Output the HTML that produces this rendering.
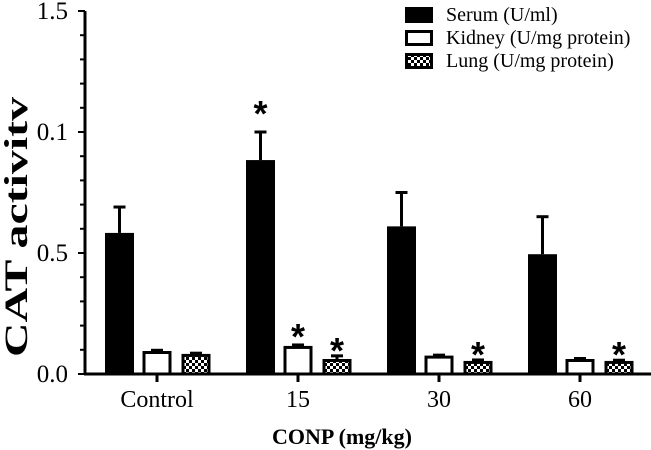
<!DOCTYPE html>
<html><head><meta charset="utf-8"><style>
body{margin:0;background:#fff;}
svg{display:block;font-family:"Liberation Serif",serif;}
</style></head><body>
<svg id="chart" width="651" height="450" viewBox="0 0 651 450">
<defs>
<pattern id="checker" width="6" height="6" patternUnits="userSpaceOnUse">
<rect width="6" height="6" fill="#000"/>
<rect x="0" y="0" width="3" height="3" fill="#fff"/>
<rect x="3" y="3" width="3" height="3" fill="#fff"/>
</pattern>
</defs>
<g id="plot"></g>
</svg>
<script>
const categories = ["Control","15","30","60"];
const serum = [0.583, 0.884, 0.61, 0.495];
const serumErr = [0.69, 1.0, 0.75, 0.65];
const kidney = [0.095, 0.116, 0.076, 0.062];
const kidneyErr = [0.098, 0.12, 0.078, 0.064];
const lung = [0.083, 0.062, 0.054, 0.054];
const lungErr = [0.086, 0.075, 0.058, 0.057];
const kidneyStar = [false, true, false, false];
const lungStar = [false, true, true, true];
const serumStar = [false, true, false, false];
const yTickValues = [0, 0.5, 1.0, 1.5];
const yTickLabels = ["0.0","0.5","0.1","1.5"];

const NS = "http://www.w3.org/2000/svg";
const g = document.getElementById('plot');
const x0 = 85, yBase = 374, yTop = 11, yMax = 1.5;
const yScale = v => yBase - v / yMax * (yBase - yTop);
const groupCenter = i => 157 + i * 141;
const barW = 29, gap = 10;
function el(tag, attrs, parent){ const e = document.createElementNS(NS, tag); for (const k in attrs) e.setAttribute(k, attrs[k]); (parent||g).appendChild(e); return e; }

const yAxis = el('line',{x1:x0,y1:yTop,x2:x0,y2:yBase+1,stroke:'#000','stroke-width':3});


for (let k = 0; k <= 15; k++) {
  const y = yScale(k * 0.1);
  const t = el('line',{x1:x0-(k%5===0?7:5),y1:y,x2:x0,y2:y,stroke:'#000','stroke-width':2});
  
  
}
yTickValues.forEach((v,i)=>{
  const t = el('text',{x:68,y:yScale(v)+8,'text-anchor':'end','font-size':25});
  t.textContent = yTickLabels[i];
  
  
});
const xAxis = el('line',{x1:x0-1,y1:yBase,x2:651,y2:yBase,stroke:'#000','stroke-width':3});



function star(x, y){
  const s = el('text',{x:x,y:y,'text-anchor':'middle','font-size':36,'font-weight':'bold','font-family':'"Liberation Sans",sans-serif'});
  s.textContent = '*';
  
  
}
function bar(x, v, err, fill, name){
  const top = yScale(v);
  const eTop = yScale(err);
  const cx = x + barW/2;
  const el1 = el('line',{x1:cx,y1:eTop,x2:cx,y2:top,stroke:'#000','stroke-width':3});
  
  
  const el2 = el('line',{x1:cx-6,y1:eTop,x2:cx+6,y2:eTop,stroke:'#000','stroke-width':3});
  
  
  const r = el('rect',{x:x+1.5,y:top+1.5,width:barW-3,height:Math.max(0,yBase-top-1.5),fill:fill,stroke:'#000','stroke-width':3});
  
  
  return eTop;
}
categories.forEach((c,i)=>{
  const cx = groupCenter(i);
  const xk = cx - barW/2, xl = cx + barW/2 + gap;
  const sx = cx - 52;
  const s1 = bar(sx, serum[i], serumErr[i], '#000', 'bar-serum-'+c.toLowerCase());
  const s2 = bar(xk, kidney[i], kidneyErr[i], '#fff', 'bar-kidney-'+c.toLowerCase());
  const s3 = bar(xl, lung[i], lungErr[i], 'url(#checker)', 'bar-lung-'+c.toLowerCase());
  if (serumStar[i]) star(sx+barW/2, s1-6);
  if (kidneyStar[i]) star(xk+barW/2, s2+4);
  if (lungStar[i]) star(xl+barW/2, s3+7);
  const t = el('line',{x1:cx,y1:yBase,x2:cx,y2:yBase+8,stroke:'#000','stroke-width':3});
  
  
  const lb = el('text',{x:cx,y:407,'text-anchor':'middle','font-size':24});
  lb.textContent = c;
  
  
});
const yt = el('text',{x:0,y:0,transform:'translate(27,227) rotate(-90)','text-anchor':'middle','font-size':33,'font-weight':'bold',textLength:260,lengthAdjust:'spacingAndGlyphs'});
yt.textContent = 'CAT activitv';


const xt = el('text',{x:342,y:444,'text-anchor':'middle','font-size':22,'font-weight':'bold'});
xt.textContent = 'CONP (mg/kg)';


const legendItems = [["Serum (U/ml)","#000","legend-serum"],["Kidney (U/mg protein)","#fff","legend-kidney"],["Lung (U/mg protein)","url(#checker)","legend-lung"]];
legendItems.forEach((it,i)=>{
  const y = 7 + i*23;
  const r = el('rect',{x:406.5,y:y+1.5,width:25,height:13,fill:it[1],stroke:'#000','stroke-width':3});
  
  
  const t = el('text',{x:446,y:y+14,'font-size':20});
  t.textContent = it[0];
  
  
});
</script>
</body></html>
